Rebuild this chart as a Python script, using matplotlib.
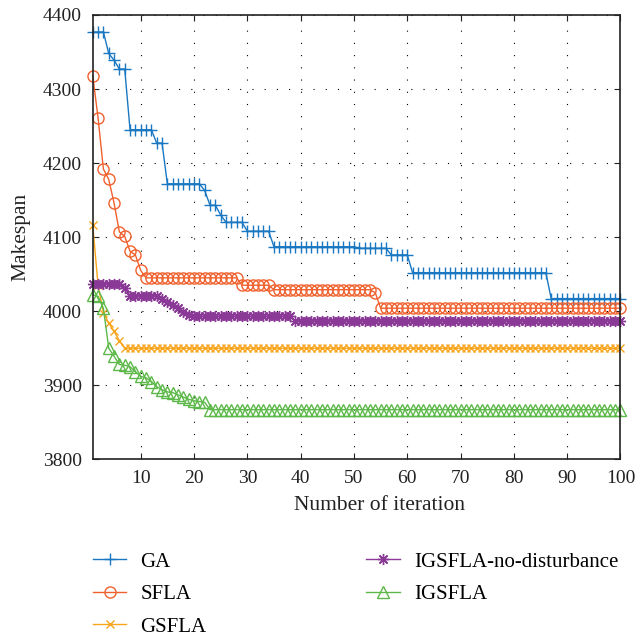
import matplotlib

matplotlib.use("Agg")

import matplotlib.pyplot as plt

plt.rcParams["font.family"] = ["Liberation Serif", "DejaVu Serif"]

iterations = list(range(1, 101))

ga = [
    4377, 4377, 4377, 4348, 4339, 4327, 4327, 4245, 4245, 4245,
    4245, 4245, 4227, 4227, 4172, 4172, 4172, 4172, 4172, 4172,
    4172, 4163, 4143, 4143, 4130, 4120, 4120, 4120, 4120, 4108,
    4108, 4108, 4108, 4108, 4087, 4087, 4087, 4087, 4087, 4087,
    4087, 4087, 4087, 4087, 4087, 4087, 4087, 4087, 4087, 4087,
    4085, 4085, 4085, 4085, 4085, 4085, 4076, 4076, 4076, 4076,
    4052, 4052, 4052, 4052, 4052, 4052, 4052, 4052, 4052, 4052,
    4052, 4052, 4052, 4052, 4052, 4052, 4052, 4052, 4052, 4052,
    4052, 4052, 4052, 4052, 4052, 4052, 4017, 4017, 4017, 4017,
    4017, 4017, 4017, 4017, 4017, 4017, 4017, 4017, 4017, 4017,
]
sfla = [
    4318, 4261, 4192, 4178, 4146, 4107, 4101, 4081, 4076, 4055,
    4045, 4045, 4045, 4045, 4045, 4045, 4045, 4045, 4045, 4045,
    4045, 4045, 4045, 4045, 4045, 4045, 4045, 4045, 4035, 4035,
    4035, 4035, 4035, 4035, 4029, 4029, 4029, 4029, 4029, 4029,
    4029, 4029, 4029, 4029, 4029, 4029, 4029, 4029, 4029, 4029,
    4029, 4029, 4029, 4025, 4004, 4004, 4004, 4004, 4004, 4004,
    4004, 4004, 4004, 4004, 4004, 4004, 4004, 4004, 4004, 4004,
    4004, 4004, 4004, 4004, 4004, 4004, 4004, 4004, 4004, 4004,
    4004, 4004, 4004, 4004, 4004, 4004, 4004, 4004, 4004, 4004,
    4004, 4004, 4004, 4004, 4004, 4004, 4004, 4004, 4004, 4004,
]
gsfla = [
    4116, 4035, 3998, 3984, 3973, 3960, 3950, 3950, 3950, 3950,
    3950, 3950, 3950, 3950, 3950, 3950, 3950, 3950, 3950, 3950,
    3950, 3950, 3950, 3950, 3950, 3950, 3950, 3950, 3950, 3950,
    3950, 3950, 3950, 3950, 3950, 3950, 3950, 3950, 3950, 3950,
    3950, 3950, 3950, 3950, 3950, 3950, 3950, 3950, 3950, 3950,
    3950, 3950, 3950, 3950, 3950, 3950, 3950, 3950, 3950, 3950,
    3950, 3950, 3950, 3950, 3950, 3950, 3950, 3950, 3950, 3950,
    3950, 3950, 3950, 3950, 3950, 3950, 3950, 3950, 3950, 3950,
    3950, 3950, 3950, 3950, 3950, 3950, 3950, 3950, 3950, 3950,
    3950, 3950, 3950, 3950, 3950, 3950, 3950, 3950, 3950, 3950,
]
igsfla_nd = [
    4037, 4037, 4037, 4037, 4037, 4037, 4031, 4021, 4021, 4021,
    4021, 4021, 4021, 4017, 4013, 4008, 4004, 3999, 3995, 3993,
    3993, 3993, 3993, 3993, 3993, 3993, 3993, 3993, 3993, 3993,
    3993, 3993, 3993, 3993, 3993, 3993, 3993, 3993, 3987, 3987,
    3987, 3987, 3987, 3987, 3987, 3987, 3987, 3987, 3987, 3987,
    3987, 3987, 3987, 3987, 3987, 3987, 3987, 3987, 3987, 3987,
    3987, 3987, 3987, 3987, 3987, 3987, 3987, 3987, 3987, 3987,
    3987, 3987, 3987, 3987, 3987, 3987, 3987, 3987, 3987, 3987,
    3987, 3987, 3987, 3987, 3987, 3987, 3987, 3987, 3987, 3987,
    3987, 3987, 3987, 3987, 3987, 3987, 3987, 3987, 3987, 3987,
]
igsfla = [
    4022, 4020, 4004, 3950, 3939, 3928, 3927, 3925, 3918, 3912,
    3910, 3905, 3898, 3894, 3891, 3890, 3887, 3884, 3881, 3879,
    3878, 3877, 3867, 3867, 3867, 3867, 3867, 3867, 3867, 3867,
    3867, 3867, 3867, 3867, 3867, 3867, 3867, 3867, 3867, 3867,
    3867, 3867, 3867, 3867, 3867, 3867, 3867, 3867, 3867, 3867,
    3867, 3867, 3867, 3867, 3867, 3867, 3867, 3867, 3867, 3867,
    3867, 3867, 3867, 3867, 3867, 3867, 3867, 3867, 3867, 3867,
    3867, 3867, 3867, 3867, 3867, 3867, 3867, 3867, 3867, 3867,
    3867, 3867, 3867, 3867, 3867, 3867, 3867, 3867, 3867, 3867,
    3867, 3867, 3867, 3867, 3867, 3867, 3867, 3867, 3867, 3867,
]

# name, values, colour, marker, marker size
series = [
    ("GA", ga, "#1a78c2", "+", 9),
    ("SFLA", sfla, "#f0612e", "o", 8),
    ("GSFLA", gsfla, "#f8a51b", "x", 6),
    ("IGSFLA-no-disturbance", igsfla_nd, "#8a3a96", (8, 2, 0), 8),
    ("IGSFLA", igsfla, "#5cb848", "^", 8),
]

x_ticks = list(range(10, 101, 10))
y_ticks = list(range(3800, 4401, 100))

fig = plt.figure(figsize=(6.36, 6.37), dpi=100)
ax = fig.add_axes([0.1458, 0.279, 0.8298, 0.6975])

for name, values, color, marker, size in series:
    ax.plot(iterations, values, color=color, marker=marker, markersize=size,
            markerfacecolor="none", markeredgewidth=1.0, linewidth=1.0,
            label=name, clip_on=False)

ax.set_xlim(1, 100)
ax.set_ylim(3800, 4400)
ax.set_xticks(x_ticks)
ax.set_yticks(y_ticks)
ax.grid(True, color="black", linestyle=(0, (1, 10)), linewidth=0.8)
ax.tick_params(direction="in", top=True, right=True, length=4, pad=7.8,
               labelsize=14, colors="#222222")
for spine in ax.spines.values():
    spine.set_color("#222222")
    spine.set_linewidth(1.2)
ax.set_xlabel("Number of iteration", fontsize=15.5, color="#222222")
ax.set_ylabel("Makespan", fontsize=15.5, color="#222222")
ax.xaxis.set_label_coords(0.544, -0.0826)
ax.yaxis.set_label_coords(-0.1175, 0.5)

fig.legend(loc="upper left", bbox_to_anchor=(0.116, 0.163), ncol=2, frameon=False,
           fontsize=15, handlelength=1.63, handletextpad=0.67, columnspacing=7.65,
           labelspacing=0.62, bbox_transform=fig.transFigure)

fig.savefig("out.png", dpi=100)
